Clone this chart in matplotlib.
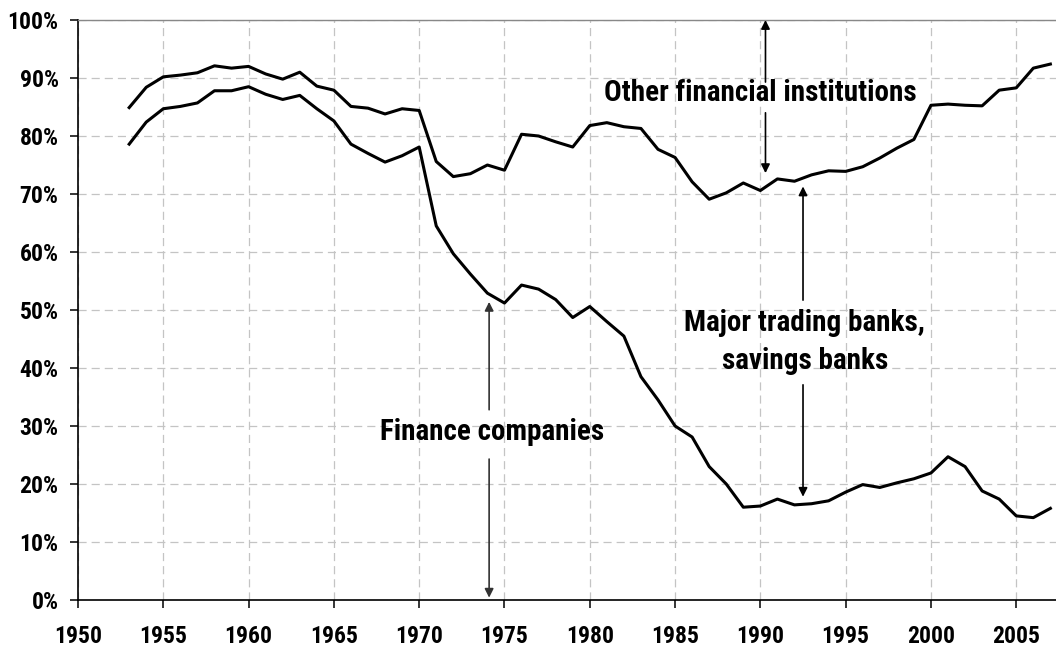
"""
Share of lending by institution type, 1953-2007 (stacked boundaries as lines).
Output: out.png (1056x650)
"""

import matplotlib

matplotlib.use("Agg")
import matplotlib.pyplot as plt
from matplotlib.ticker import FuncFormatter, MultipleLocator

# ---- data (percent) ----
years = list(range(1953, 2008))

finance_cos = [
    78.6, 82.4, 84.7, 85.1, 85.7, 87.8, 87.8, 88.5, 87.2, 86.3,
    87.0, 84.7, 82.6, 78.6, 77.0, 75.5, 76.6, 78.1, 64.5, 59.7,
    56.2, 52.9, 51.2, 54.3, 53.6, 51.8, 48.7, 50.6, 48.0, 45.5,
    38.5, 34.5, 30.0, 28.1, 23.0, 20.0, 16.0, 16.2, 17.4, 16.4,
    16.6, 17.1, 18.6, 19.9, 19.4, 20.2, 20.9, 21.9, 24.7, 23.0,
    18.8, 17.4, 14.5, 14.2, 15.8,
]

finance_plus_banks = [
    84.9, 88.4, 90.2, 90.5, 90.9, 92.1, 91.7, 92.0, 90.7, 89.8,
    91.0, 88.6, 87.9, 85.1, 84.8, 83.8, 84.7, 84.4, 75.6, 73.0,
    73.5, 75.0, 74.1, 80.3, 80.0, 79.0, 78.1, 81.8, 82.3, 81.6,
    81.3, 77.7, 76.3, 72.1, 69.1, 70.2, 71.9, 70.6, 72.6, 72.2,
    73.3, 74.0, 73.9, 74.7, 76.2, 77.9, 79.4, 85.3, 85.5, 85.3,
    85.2, 87.9, 88.3, 91.7, 92.4,
]

xtick_years = list(range(1950, 2006, 5))

LBL_OTHER = "Other financial institutions"
LBL_BANKS = ["Major trading banks,", "savings banks"]
LBL_FIN = "Finance companies"

# ---- style ----
plt.rcParams["font.family"] = ["Roboto Condensed", "DejaVu Sans"]
plt.rcParams["font.weight"] = "bold"

FIG_W, FIG_H, DPI = 10.56, 6.5, 100
TICK_FS = 17
LINE_LW = 2.2
ARROW_LW = 1.2
GRID_C = "#c4c4c4"


def arrow(ax, x, y0, y1, color="black"):
    ax.annotate(
        "",
        xy=(x, y1),
        xytext=(x, y0),
        arrowprops=dict(
            arrowstyle="-|>",
            lw=ARROW_LW,
            color=color,
            mutation_scale=13,
            shrinkA=0,
            shrinkB=0,
        ),
        zorder=4,
    )


def label(ax, x, y, s, fs):
    ax.text(x, y, s, ha="center", va="baseline", fontsize=fs,
            fontweight="bold", zorder=5)


def main():
    fig = plt.figure(figsize=(FIG_W, FIG_H), dpi=DPI)
    ax = fig.add_axes([78 / 1056, 50 / 650, 1 - 78 / 1056, 580 / 650])

    ax.plot(years, finance_plus_banks, color="black", lw=LINE_LW, zorder=3)
    ax.plot(years, finance_cos, color="black", lw=LINE_LW, zorder=3)

    ax.set_xlim(1950, 2007.33)
    ax.set_ylim(0, 100)
    ax.set_xticks(xtick_years)
    ax.yaxis.set_major_locator(MultipleLocator(10))
    ax.yaxis.set_major_formatter(FuncFormatter(lambda v, _: f"{v:.0f}%"))

    ax.grid(True, color=GRID_C, lw=0.9, linestyle=(0, (6.5, 4.0)), zorder=0)
    ax.set_axisbelow(True)

    for s in ("left", "bottom"):
        ax.spines[s].set_color("black")
        ax.spines[s].set_linewidth(1.2)
    ax.spines["top"].set_color("#888888")
    ax.spines["top"].set_linewidth(1.0)
    ax.spines["right"].set_visible(False)

    ax.tick_params(axis="both", direction="out", length=6, width=1.1,
                   labelsize=TICK_FS, color="black")
    ax.tick_params(axis="x", pad=12)
    ax.tick_params(axis="y", pad=8)
    for t in ax.get_xticklabels() + ax.get_yticklabels():
        t.set_fontweight("bold")

    # annotations
    label(ax, 1990.0, 86.0, LBL_OTHER, 21)
    arrow(ax, 1990.3, 89.3, 100.0)
    arrow(ax, 1990.3, 84.0, 73.6)

    label(ax, 1992.6, 46.4, LBL_BANKS[0], 21)
    label(ax, 1992.6, 39.9, LBL_BANKS[1], 21)
    arrow(ax, 1992.5, 51.7, 71.3)
    arrow(ax, 1992.5, 37.1, 17.8)

    label(ax, 1974.3, 27.6, LBL_FIN, 21)
    arrow(ax, 1974.1, 32.8, 51.4, color="#333333")
    arrow(ax, 1974.1, 24.3, 0.4, color="#333333")

    fig.savefig("out.png", dpi=DPI)
    plt.close(fig)


if __name__ == "__main__":
    main()
